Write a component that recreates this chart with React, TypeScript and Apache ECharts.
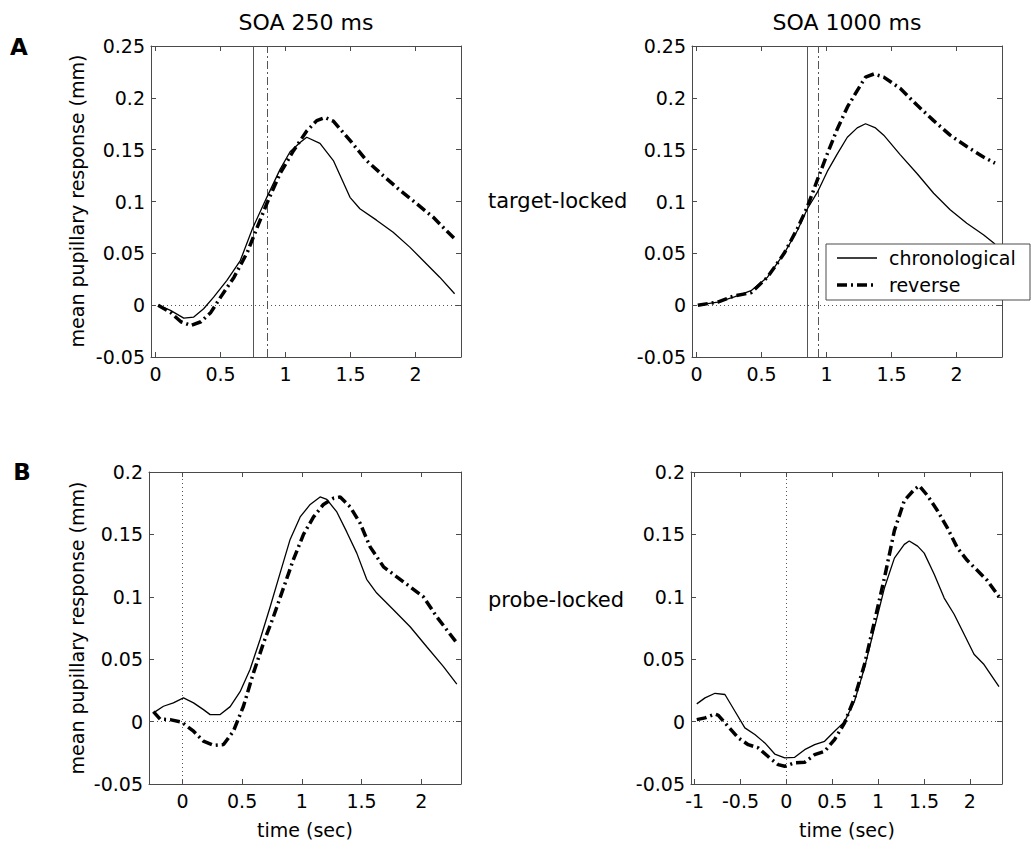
import React, { useEffect, useRef } from 'react';
import * as echarts from 'echarts';

const FONT = 'DejaVu Sans';

// ---------- Data (time in sec, mean pupillary response in mm) ----------
// A, SOA 250 ms, target-locked
const tA250Chron = [0.02, 0.115, 0.217, 0.294, 0.37, 0.447, 0.549, 0.652, 0.746, 0.856, 0.958, 1.035, 1.112, 1.163, 1.265, 1.368, 1.496, 1.572, 1.7, 1.828, 1.956, 2.083, 2.186, 2.301];
const vA250Chron = [0, -0.005, -0.0125, -0.0115, -0.0035, 0.0077, 0.024, 0.043, 0.074, 0.104, 0.131, 0.148, 0.157, 0.162, 0.156, 0.1395, 0.104, 0.093, 0.082, 0.0704, 0.056, 0.04, 0.027, 0.011];
const tA250Rev = [0.02, 0.115, 0.195, 0.272, 0.349, 0.425, 0.502, 0.604, 0.706, 0.782, 0.856, 0.958, 1.061, 1.163, 1.24, 1.304, 1.368, 1.496, 1.623, 1.751, 1.879, 2.007, 2.135, 2.237, 2.301];
const vA250Rev = [0, -0.007, -0.016, -0.0196, -0.016, -0.007, 0.008, 0.027, 0.051, 0.075, 0.098, 0.127, 0.149, 0.168, 0.178, 0.181, 0.1775, 0.159, 0.1395, 0.125, 0.111, 0.098, 0.085, 0.072, 0.064];
const markersA250 = [0.746, 0.857];

// A, SOA 1000 ms, target-locked
const tA1000Chron = [0.01, 0.163, 0.291, 0.419, 0.546, 0.674, 0.776, 0.853, 0.93, 1.006, 1.083, 1.16, 1.236, 1.3, 1.377, 1.44, 1.568, 1.696, 1.824, 1.951, 2.079, 2.207, 2.296];
const vA1000Chron = [0, 0.003, 0.008, 0.014, 0.027, 0.05, 0.072, 0.093, 0.109, 0.129, 0.146, 0.162, 0.171, 0.175, 0.171, 0.164, 0.145, 0.127, 0.108, 0.092, 0.079, 0.068, 0.059];
const tA1000Rev = [0.01, 0.163, 0.291, 0.419, 0.546, 0.674, 0.776, 0.853, 0.93, 1.006, 1.083, 1.16, 1.236, 1.3, 1.364, 1.44, 1.568, 1.696, 1.824, 1.951, 2.079, 2.207, 2.296];
const vA1000Rev = [0, 0.003, 0.009, 0.012, 0.027, 0.05, 0.074, 0.095, 0.121, 0.146, 0.17, 0.191, 0.207, 0.22, 0.223, 0.22, 0.209, 0.193, 0.178, 0.164, 0.153, 0.143, 0.137];
const markersA1000 = [0.848, 0.94];

// B, SOA 250 ms, probe-locked
const tB250Chron = [-0.243, -0.159, -0.076, 0.009, 0.093, 0.176, 0.232, 0.316, 0.4, 0.483, 0.567, 0.651, 0.735, 0.818, 0.902, 0.986, 1.07, 1.153, 1.209, 1.293, 1.376, 1.46, 1.543, 1.627, 1.767, 1.907, 2.046, 2.186, 2.298];
const vB250Chron = [0.007, 0.0123, 0.015, 0.019, 0.015, 0.0096, 0.0056, 0.0056, 0.012, 0.024, 0.042, 0.066, 0.092, 0.119, 0.146, 0.164, 0.174, 0.18, 0.178, 0.168, 0.152, 0.135, 0.114, 0.103, 0.0896, 0.076, 0.06, 0.044, 0.03];
const tB250Rev = [-0.243, -0.187, -0.103, -0.005, 0.093, 0.176, 0.26, 0.344, 0.427, 0.511, 0.595, 0.679, 0.762, 0.846, 0.93, 1.014, 1.098, 1.181, 1.265, 1.321, 1.405, 1.488, 1.572, 1.684, 1.795, 1.907, 2.018, 2.13, 2.298];
const vB250Rev = [0.008, 0.002, 0.0016, -0.0005, -0.0077, -0.0157, -0.019, -0.0184, -0.0077, 0.0123, 0.039, 0.063, 0.084, 0.107, 0.13, 0.15, 0.164, 0.174, 0.179, 0.18, 0.172, 0.159, 0.14, 0.124, 0.116, 0.108, 0.1, 0.084, 0.063];

// B, SOA 1000 ms, probe-locked
const tB1000Chron = [-0.977, -0.887, -0.778, -0.67, -0.561, -0.453, -0.344, -0.235, -0.127, -0.018, 0.09, 0.199, 0.308, 0.416, 0.525, 0.634, 0.742, 0.851, 0.959, 1.068, 1.177, 1.285, 1.339, 1.43, 1.502, 1.611, 1.72, 1.828, 1.937, 2.045, 2.154, 2.317];
const vB1000Chron = [0.0142, 0.019, 0.0227, 0.0217, 0.0083, -0.005, -0.0104, -0.0171, -0.026, -0.029, -0.0286, -0.0225, -0.0185, -0.0158, -0.0078, 0, 0.0163, 0.043, 0.075, 0.107, 0.131, 0.142, 0.1447, 0.1406, 0.135, 0.118, 0.099, 0.086, 0.07, 0.054, 0.0457, 0.028];
const tB1000Rev = [-0.977, -0.887, -0.778, -0.742, -0.67, -0.525, -0.416, -0.308, -0.199, -0.09, -0.018, 0.09, 0.199, 0.308, 0.416, 0.525, 0.634, 0.742, 0.851, 0.959, 1.068, 1.177, 1.285, 1.394, 1.448, 1.539, 1.647, 1.756, 1.865, 1.973, 2.082, 2.19, 2.317];
const vB1000Rev = [0.0016, 0.003, 0.006, 0.005, -0.001, -0.013, -0.0185, -0.021, -0.028, -0.0345, -0.0358, -0.033, -0.0326, -0.0265, -0.0238, -0.0144, -0.001, 0.019, 0.0457, 0.08, 0.115, 0.153, 0.177, 0.186, 0.189, 0.181, 0.169, 0.155, 0.139, 0.129, 0.121, 0.113, 0.1];

const xTicksA = [0, 0.5, 1, 1.5, 2];
const xTicksB250 = [0, 0.5, 1, 1.5, 2];
const xTicksB1000 = [-1, -0.5, 0, 0.5, 1, 1.5, 2];

const columnTitles = ['SOA 250 ms', 'SOA 1000 ms'];
const rowLabels = ['target-locked', 'probe-locked'];
const rowLetters = ['A', 'B'];
const legendNames = ['chronological', 'reverse'];
const yAxisTitle = 'mean pupillary response (mm)';
const xAxisTitle = 'time (sec)';

const pairs = (t: number[], v: number[]) => t.map((x, i) => [x, v[i]]);
const fmt = (v: number) => String(parseFloat(Number(v).toFixed(3)));

const AXIS_COLOR = '#4a4a4a';
const REV_DASH = [10, 4, 2, 4];

const panels = [
  { grid: { left: 151, top: 46, width: 310, height: 311 }, xMin: -0.035, xMax: 2.35, yMin: -0.05, yMax: 0.25,
    xTicks: xTicksA, chron: pairs(tA250Chron, vA250Chron), rev: pairs(tA250Rev, vA250Rev), markers: markersA250, zeroX: false },
  { grid: { left: 692, top: 46, width: 310, height: 311 }, xMin: -0.035, xMax: 2.35, yMin: -0.05, yMax: 0.25,
    xTicks: xTicksA, chron: pairs(tA1000Chron, vA1000Chron), rev: pairs(tA1000Rev, vA1000Rev), markers: markersA1000, zeroX: false },
  { grid: { left: 149, top: 472, width: 312, height: 312 }, xMin: -0.28, xMax: 2.333, yMin: -0.05, yMax: 0.2,
    xTicks: xTicksB250, chron: pairs(tB250Chron, vB250Chron), rev: pairs(tB250Rev, vB250Rev), markers: [] as number[], zeroX: true },
  { grid: { left: 691, top: 472, width: 311, height: 312 }, xMin: -1.04, xMax: 2.35, yMin: -0.05, yMax: 0.2,
    xTicks: xTicksB1000, chron: pairs(tB1000Chron, vB1000Chron), rev: pairs(tB1000Rev, vB1000Rev), markers: [] as number[], zeroX: true },
];

function buildOption() {
  const grid = panels.map((p) => ({ ...p.grid, containLabel: false }));
  const xAxis: any[] = [];
  const yAxis: any[] = [];
  const series: any[] = [];
  panels.forEach((p, i) => {
    const common = {
      type: 'value', gridIndex: i, min: p.xMin, max: p.xMax,
      axisLine: { show: true, onZero: false, lineStyle: { color: AXIS_COLOR, width: 1 } },
      axisTick: { show: true, inside: true, length: 5, customValues: p.xTicks, lineStyle: { color: AXIS_COLOR } },
      splitLine: { show: false },
    };
    xAxis.push({ ...common, position: 'bottom',
      axisLabel: { customValues: p.xTicks, formatter: fmt, color: '#000', fontFamily: FONT, fontSize: 19, margin: 7 } });
    xAxis.push({ ...common, position: 'top', axisLabel: { show: false } });
    const ycommon = {
      type: 'value', gridIndex: i, min: p.yMin, max: p.yMax, interval: 0.05,
      axisLine: { show: true, onZero: false, lineStyle: { color: AXIS_COLOR, width: 1 } },
      axisTick: { show: true, inside: true, length: 5, lineStyle: { color: AXIS_COLOR } },
      splitLine: { show: false },
    };
    yAxis.push({ ...ycommon, position: 'left',
      axisLabel: { formatter: fmt, color: '#000', fontFamily: FONT, fontSize: 19, margin: 6 } });
    yAxis.push({ ...ycommon, position: 'right', axisLabel: { show: false } });

    const mlData: any[] = [{ yAxis: 0, lineStyle: { type: [1, 3], color: '#555', width: 1 } }];
    if (p.zeroX) mlData.push({ xAxis: 0, lineStyle: { type: [1, 3], color: '#555', width: 1 } });
    if (p.markers.length) {
      mlData.push({ xAxis: p.markers[0], lineStyle: { type: 'solid', color: '#555', width: 1 } });
      mlData.push({ xAxis: p.markers[1], lineStyle: { type: [8, 3, 2, 3], color: '#555', width: 1 } });
    }
    series.push({
      type: 'line', name: legendNames[1], xAxisIndex: 2 * i, yAxisIndex: 2 * i, data: p.rev,
      showSymbol: false, symbol: 'none', silent: true, z: 3,
      lineStyle: { color: '#000', width: 3.5, type: REV_DASH, cap: 'butt' },
    });
    series.push({
      type: 'line', name: legendNames[0], xAxisIndex: 2 * i, yAxisIndex: 2 * i, data: p.chron,
      showSymbol: false, symbol: 'none', silent: true, z: 4,
      lineStyle: { color: '#000', width: 1.3, type: 'solid' },
      markLine: { silent: true, symbol: ['none', 'none'], label: { show: false }, data: mlData, z: 1 },
    });
  });

  const txt = (text: string, x: number, y: number, size: number, extra: any = {}) => ({
    type: 'text', x, y, z: 100, rotation: extra.rotation || 0,
    style: {
      text, fill: '#000', fontFamily: FONT, fontSize: size, fontWeight: extra.weight || 'normal',
      align: extra.align || 'center', verticalAlign: 'middle',
      textAlign: extra.align || 'center', textVerticalAlign: 'middle',
    },
  });

  const graphic: any[] = [
    txt(rowLetters[0], 19, 47, 23, { weight: 'bold' }),
    txt(rowLetters[1], 22, 472, 23, { weight: 'bold' }),
    txt(columnTitles[0], 306, 22, 22),
    txt(columnTitles[1], 847, 22, 22),
    txt(rowLabels[0], 488, 201, 21, { align: 'left' }),
    txt(rowLabels[1], 488, 600, 21, { align: 'left' }),
    txt(yAxisTitle, 77, 201, 19, { rotation: Math.PI / 2 }),
    txt(yAxisTitle, 77, 628, 19, { rotation: Math.PI / 2 }),
    txt(xAxisTitle, 305, 830, 19),
    txt(xAxisTitle, 847, 830, 19),
    { type: 'rect', z: 99, shape: { x: 826, y: 244, width: 204, height: 56 },
      style: { fill: '#fff', stroke: AXIS_COLOR, lineWidth: 1 } },
    { type: 'line', z: 100, shape: { x1: 837, y1: 258, x2: 877, y2: 258 },
      style: { stroke: '#000', lineWidth: 1.3 } },
    { type: 'line', z: 100, shape: { x1: 837, y1: 285, x2: 877, y2: 285 },
      style: { stroke: '#000', lineWidth: 3.5, lineDash: REV_DASH } },
    txt(legendNames[0], 889, 258, 19, { align: 'left' }),
    txt(legendNames[1], 889, 285, 19, { align: 'left' }),
  ];

  return {
    animation: false,
    backgroundColor: '#fff',
    textStyle: { fontFamily: FONT },
    grid, xAxis, yAxis, series, graphic,
  };
}

export default function App() {
  const ref = useRef<HTMLDivElement>(null);
  useEffect(() => {
    if (!ref.current) return;
    const chart = echarts.init(ref.current, undefined, { renderer: 'svg' });
    chart.setOption(buildOption() as any);
    return () => chart.dispose();
  }, []);
  return (
    <div ref={ref} style={{ position: 'absolute', left: 0, top: 0, width: 1031, height: 849, background: '#fff' }} />
  );
}
